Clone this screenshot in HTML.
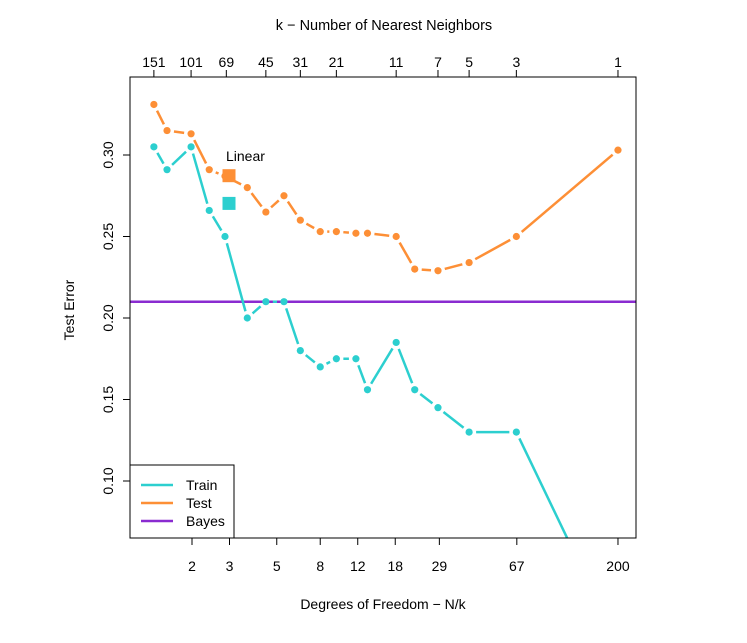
<!DOCTYPE html>
<html><head><meta charset="utf-8"><style>
body{margin:0;background:#fff}
svg{font-family:"Liberation Sans",Arial,sans-serif}
</style></head><body>
<svg id="chart" width="747" height="638" viewBox="0 0 747 638" xmlns="http://www.w3.org/2000/svg"></svg>
<script>
const kValues=[151,131,101,83,70,55,45,37,31,25,21,17,15,11,9,7,5,3,1];
const testErr=[0.331,0.315,0.313,0.291,0.287,0.280,0.265,0.275,0.260,0.253,0.253,0.252,0.252,0.250,0.230,0.229,0.234,0.250,0.303];
const trainErr=[0.305,0.291,0.305,0.266,0.250,0.200,0.210,0.210,0.180,0.170,0.175,0.175,0.156,0.185,0.156,0.145,0.130,0.130,0.0];
const linearTest=0.287, linearTrain=0.270, linearDof=3, bayesErr=0.21;
const bottomTicks=[2,3,5,8,12,18,29,67,200];
const topTicks=[151,101,69,45,31,21,11,7,5,3,1];
const yTicks=[0.10,0.15,0.20,0.25,0.30];
const N=200;
const L=130,R=636,T=77,B=538;
const NS="http://www.w3.org/2000/svg";
const svg=document.getElementById('chart');
function x(d){return 192+Math.log(d/2)*92.5;}
function y(v){return 155+(0.30-v)/0.05*81.5;}
function el(tag,a,parent){const e=document.createElementNS(NS,tag);for(const k in a)e.setAttribute(k,a[k]);(parent||svg).appendChild(e);return e;}
const defs=el('defs',{});
const cp=el('clipPath',{id:'clip'},defs);el('rect',{x:L,y:T,width:R-L,height:B-T},cp);
const plot=el('g',{'clip-path':'url(#clip)'});
const bl=el('line',{x1:L,x2:R,y1:y(bayesErr),y2:y(bayesErr),stroke:'#8a2bd0','stroke-width':2.5},plot);


function series(vals,color,name){
  const g=el('g',{},plot);
  
  
  const pts=kValues.map((k,i)=>[x(N/k),y(vals[i])]);
  for(let i=0;i<pts.length-1;i++){
    const [x1,y1]=pts[i],[x2,y2]=pts[i+1];
    const dx=x2-x1,dy=y2-y1,len=Math.hypot(dx,dy),gap=7;
    if(len<=2*gap)continue;
    const ux=dx/len,uy=dy/len;
    const s=el('line',{x1:x1+ux*gap,y1:y1+uy*gap,x2:x2-ux*gap,y2:y2-uy*gap,stroke:color,'stroke-width':2.5},g);
    
    
  }
  pts.forEach(p=>{
    const c=el('circle',{cx:p[0],cy:p[1],r:3.6,fill:color},g);
    
    
  });
}
series(trainErr,'#2ccfcf','train');
series(testErr,'#fd8f36','test');
const sq1=el('rect',{x:x(linearDof)-7,y:y(linearTest)-7,width:13,height:13,fill:'#fd8f36'});


const sq2=el('rect',{x:x(linearDof)-7,y:y(linearTrain)-7,width:13,height:13,fill:'#2ccfcf'});


const lt=el('text',{x:226,y:161,'font-size':14});lt.textContent='Linear';


const box=el('rect',{x:L,y:T,width:R-L,height:B-T,fill:'none',stroke:'#000','stroke-width':1});


yTicks.forEach(v=>{
  el('line',{x1:L-7,x2:L,y1:y(v),y2:y(v),stroke:'#000'});
  const t=el('text',{x:113,y:y(v),'font-size':14,'text-anchor':'middle',transform:`rotate(-90 113 ${y(v)})`});
  t.textContent=v.toFixed(2);
  
  
});
bottomTicks.forEach(d=>{
  el('line',{x1:x(d),x2:x(d),y1:B,y2:B+7,stroke:'#000'});
  const t=el('text',{x:x(d),y:571,'font-size':14,'text-anchor':'middle'});t.textContent=d;
  
  
});
topTicks.forEach(k=>{
  el('line',{x1:x(N/k),x2:x(N/k),y1:T-7,y2:T,stroke:'#000'});
  const t=el('text',{x:x(N/k),y:67,'font-size':14,'text-anchor':'middle'});t.textContent=k;
  
  
});
const xt=el('text',{x:383,y:609,'font-size':14,'text-anchor':'middle'});xt.textContent='Degrees of Freedom \u2212 N/k';


const tt=el('text',{x:384,y:30,'font-size':14.5,'text-anchor':'middle'});tt.textContent='k \u2212  Number of Nearest Neighbors';


const yt=el('text',{x:74,y:310,'font-size':14,'text-anchor':'middle',transform:'rotate(-90 74 310)'});yt.textContent='Test Error';


const lg=el('g',{});


el('rect',{x:L,y:465,width:104,height:73,fill:'#fff',stroke:'#000'},lg);
[['Train','#2ccfcf',485],['Test','#fd8f36',503],['Bayes','#8a2bd0',521]].forEach(([n,c,yy])=>{
  const e=el('g',{},lg);
  
  
  el('line',{x1:141,x2:173,y1:yy,y2:yy,stroke:c,'stroke-width':2.5},e);
  const t=el('text',{x:186,y:yy+5,'font-size':14},e);t.textContent=n;
});
</script>
</body></html>
